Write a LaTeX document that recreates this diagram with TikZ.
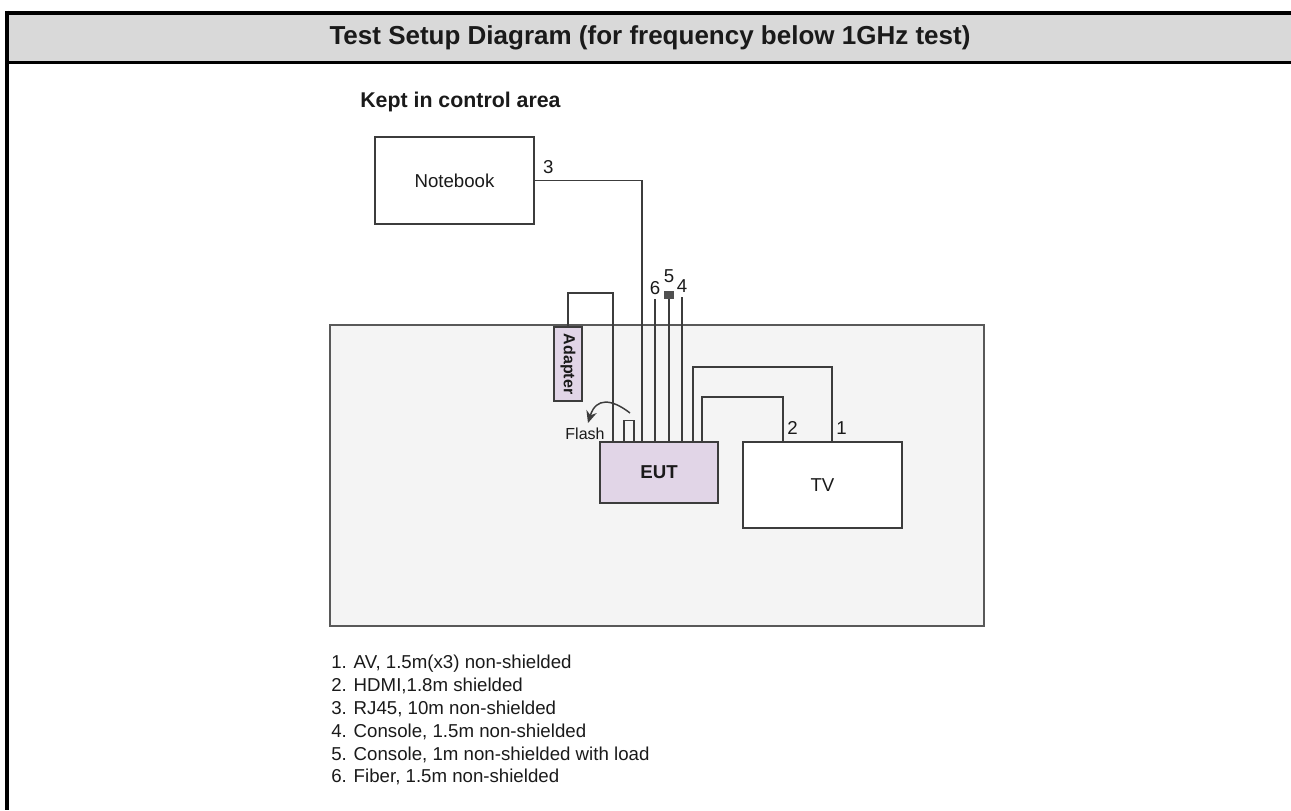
\documentclass[tikz,border=0pt]{standalone}
\usepackage{fontspec}
\setmainfont{Liberation Sans}
\usepackage{graphicx}
\usetikzlibrary{positioning,arrows.meta}
\definecolor{hdrgray}{HTML}{D9D9D9}
\definecolor{tablegray}{HTML}{F4F4F4}
\definecolor{eutlilac}{HTML}{E1D5E7}
\definecolor{wire}{HTML}{3C3C3C}
\definecolor{ink}{HTML}{1A1A1A}
\tikzset{
  unit/.style  = {draw=wire, line width=1.3pt, fill=white, text=ink, inner sep=0pt,
                  font=\fontsize{14}{16}\selectfont},
  dev/.style   = {unit, fill=eutlilac},
  cable/.style = {draw=wire, line width=1.1pt},
  num/.style   = {text=ink, inner sep=1pt, font=\fontsize{14}{16}\selectfont},
  frame/.style = {line width=3.2pt, black},
}

\begin{document}
\begin{tikzpicture}[x=0.75pt, y=-0.75pt]
  \useasboundingbox (0,0) rectangle (1291,810);
  % header band
  \fill[hdrgray] (5,15) rectangle (1291,61);
  \draw[frame] (5,12.85) -- (1291,12.85);
  \draw[frame] (7,10.7) -- (7,810);
  \draw[line width=1.9pt] (5,62.3) -- (1291,62.3);
  \node[text=ink, font=\bfseries\fontsize{19.5}{22}\selectfont] (title) at (650,38)
    {Test Setup Diagram (for frequency below 1GHz test)};
  \node[text=ink, anchor=west, inner sep=0pt, font=\bfseries\fontsize{16}{19}\selectfont]
    (ctrl) at (360,102) {Kept in control area};

  % table and devices
  \node[draw=wire!85, line width=1.5pt, fill=tablegray, inner sep=0pt,
        minimum width=490.5pt, minimum height=225.75pt] (table) at (657,475.5) {};
  \node[unit, minimum width=119.25pt, minimum height=65.25pt] (nbook) at (454.5,180.5) {Notebook};
  \node[dev, minimum width=21pt, minimum height=55.5pt, font=\bfseries\fontsize{12}{14}\selectfont]
    (adapter) at (568,364) {\rotatebox{-90}{Adapter}};
  \node[dev, minimum width=88.5pt, minimum height=45.75pt, font=\bfseries\fontsize{14}{16}\selectfont]
    (eut) at (659,472.5) {EUT};
  \node[unit, minimum width=119.25pt, minimum height=64.5pt] (tv) at (822.5,485) {TV};
  \node[draw=wire, line width=1.1pt, inner sep=0pt, minimum width=7.5pt, minimum height=15.75pt,
        anchor=south] (plug) at (629,442) {};
  \node[fill=wire!90, inner sep=0pt, minimum width=7.5pt, minimum height=6pt] (load) at (669,295) {};

  % cable ends
  \coordinate (x3) at (642,0);
  \coordinate (t6) at (655,299);
  \coordinate (t4) at (682,297);
  \coordinate (a1) at (693,367); \coordinate (b1) at (832,367);
  \coordinate (a2) at (702,397); \coordinate (b2) at (783,397);
  \coordinate (ad) at (613,293);
  \coordinate (fl) at (630,413); \coordinate (fltip) at (588,423);

  % cables
  \draw[cable] (nbook.east) -| (eut.north -| x3);
  \draw[cable] (eut.north -| t6) -- (t6);
  \draw[cable] (eut.north -| load) -- (load.south);
  \draw[cable] (eut.north -| t4) -- (t4);
  \draw[cable] (eut.north -| a1) -- (a1) -- (b1) -- (tv.north -| b1);
  \draw[cable] (eut.north -| a2) -- (a2) -- (b2) -- (tv.north -| b2);
  \draw[cable] (adapter.north) |- (ad) -- (eut.north -| ad);
  \draw[cable, -{Stealth[length=9pt,width=8pt]}] (fl) .. controls (612,399) and (596,397) .. (fltip);

  % labels
  \node[num, above right=4pt and 5pt of nbook.east] (n3) {3};
  \node[num, above=2pt of t6] (n6) {6};
  \node[num, above=5pt of load] (n5) {5};
  \node[num, above=2pt of t4] (n4) {4};
  \node[num, above right=4pt and 2pt of tv.north -| b2] (n2) {2};
  \node[num, above right=4pt and 2pt of tv.north -| b1] (n1) {1};
  \node[num, font=\fontsize{12}{14}\selectfont] (flash) at (585,434) {Flash};

  % legend
  \node[anchor=north west, align=left, inner sep=0pt, text=ink,
        font=\fontsize{14}{17.1}\selectfont] (legend) at (331,655)
    {1. AV, 1.5m(x3) non-shielded\\
     2. HDMI,1.8m shielded\\
     3. RJ45, 10m non-shielded\\
     4. Console, 1.5m non-shielded\\
     5. Console, 1m non-shielded with load\\
     6. Fiber, 1.5m non-shielded};
\end{tikzpicture}
\end{document}
